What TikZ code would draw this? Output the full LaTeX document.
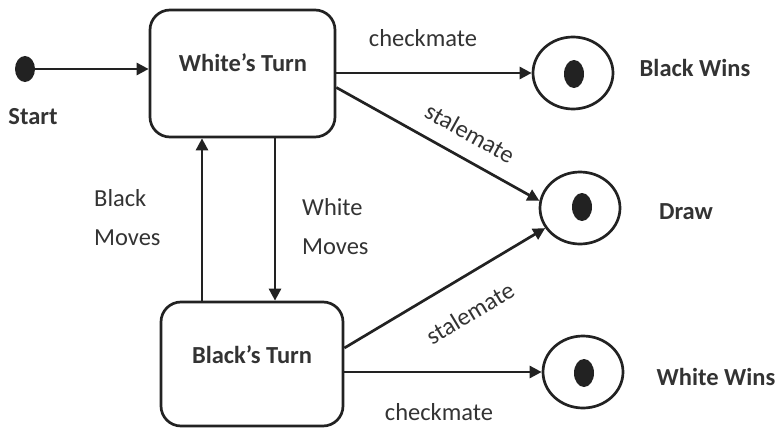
\documentclass[tikz,border=0pt]{standalone}
\usepackage{fontspec}
\setmainfont{Carlito}
\usetikzlibrary{shapes.geometric,arrows.meta,calc}
\definecolor{ink}{HTML}{222222}
\definecolor{txt}{HTML}{333333}
\begin{document}
\begin{tikzpicture}[x=1pt,y=-1pt,
  every node/.style={text=txt},
  lbl/.style={font=\fontsize{24.5}{39}\selectfont, inner sep=0pt},
  blbl/.style={font=\fontsize{24.5}{30}\selectfont\bfseries, inner sep=0pt},
  statebox/.style={draw=ink, line width=2.7pt, rounded corners=20pt, rectangle, inner sep=0pt},
  final/.style={draw=ink, line width=2.7pt, ellipse, minimum width=80pt, minimum height=72pt, inner sep=0pt},
  dot/.style={fill=ink, ellipse, minimum width=20pt, minimum height=28pt, inner sep=0pt},
  arr/.style={draw=ink, line width=2.7pt, -{Triangle[length=12pt,width=12pt]}}]
\useasboundingbox (0,0) rectangle (776,428);

% states
\node[statebox, minimum width=185pt, minimum height=127pt] (wt) at (242.5,73.5) {};
\node[blbl] (wtl) at (243,63) {White’s Turn};
\node[statebox, minimum width=182pt, minimum height=124pt] (bt) at (252,364) {};
\node[blbl] (btl) at (252,355) {Black’s Turn};

% initial state
\node[fill=ink, ellipse, minimum width=20pt, minimum height=26pt, inner sep=0pt] (start) at (25,69) {};
\node[blbl] (startl) at (33,117) {Start};

% final states
\node[final] (bw) at (573,73) {};
\node[dot] (bwd) at (574,74) {};
\node[blbl] (bwl) at (695,68) {Black Wins};
\node[final] (dr) at (580,208) {};
\node[dot] (drd) at (582,207) {};
\node[blbl] (drl) at (686,212) {Draw};
\node[final] (ww) at (583,372) {};
\node[dot] (wwd) at (584,373) {};
\node[blbl] (wwl) at (716,377) {White Wins};

% transitions
\draw[arr] (start) -- (wt.west |- start);
\draw[arr] (wt.east |- bw.west) -- (bw.west);
\draw[arr] ($(wt.east)+(0,14)$) -- (dr.170);
\draw[arr] ($(bt.east)+(0,-16)$) -- (dr.210);
\draw[arr] (bt.east |- ww.west) -- (ww.west);

\coordinate (bmx) at (202,0);
\coordinate (wmx) at (275,0);
\draw[arr] (bmx |- bt.north) -- (bmx |- wt.south);
\draw[arr] (wmx |- wt.south) -- (wmx |- bt.north);

% transition labels
\node[lbl] (cm1) at (423,38) {checkmate};
\node[lbl, rotate=-29] (sm1) at (470,133) {stalemate};
\node[lbl, rotate=31] (sm2) at (470,313) {stalemate};
\node[lbl] (cm2) at (439,412) {checkmate};
\node[lbl, align=left, anchor=north west] (bm) at (94,189) {Black\\Moves};
\node[lbl, align=left, anchor=north west] (wm) at (302,198) {White\\Moves};
\end{tikzpicture}
\end{document}
